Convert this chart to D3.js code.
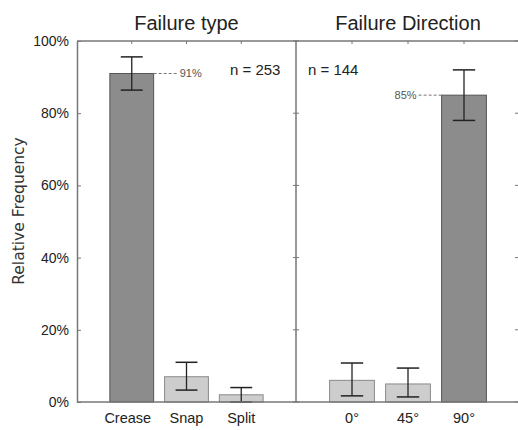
<!DOCTYPE html>
<html><head><meta charset="utf-8">
<script src="https://cdn.jsdelivr.net/npm/d3@7"></script>
<style>body{margin:0;background:#fff}svg{display:block}</style>
</head><body>
<svg id="c" width="518" height="430"></svg>
<script>
const typeCats = ["Crease", "Snap", "Split"];
const typeVals = [91, 7, 2];
const typeErrLo = [86.4, 3.3, 0];
const typeErrHi = [95.6, 11, 4];
const typeN = "n = 253";
const dirCats = ["0°", "45°", "90°"];
const dirVals = [6, 5, 85];
const dirErrLo = [1.7, 1.4, 78];
const dirErrHi = [10.8, 9.4, 92];
const dirN = "n = 144";
const yTicks = [0, 20, 40, 60, 80, 100];
const titles = ["Failure type", "Failure Direction"];
const yLabel = "Relative Frequency";

const svg = d3.select("#c");
const font = "'Liberation Sans', Arial, sans-serif";
const y = d3.scaleLinear().domain([0, 100]).range([402, 41]);
const xL = d3.scaleLinear().domain([0, 4]).range([77, 296]);
const xR = d3.scaleLinear().domain([0, 4]).range([296, 520]);
const axisCol = "#777";

function panel(x, cats, vals, lo, hi, title, nText, nX, anchorLabelRight) {
  const g = svg.append("g");
  const unit = x(1) - x(0);
  const bw = unit * 0.8;
  const maxV = d3.max(vals);
  cats.forEach((c, i) => {
    const cx = x(i + 1);
    const dark = vals[i] === maxV;
    g.append("rect").attr("x", cx - bw / 2).attr("y", y(vals[i]))
      .attr("width", bw).attr("height", y(0) - y(vals[i]))
      .attr("fill", dark ? "#8c8c8c" : "#cdcdcd")
      .attr("stroke", dark ? "#555" : "#8a8a8a").attr("stroke-width", 1);
    const cw = bw / 4;
    g.append("line").attr("x1", cx).attr("x2", cx).attr("y1", y(hi[i])).attr("y2", y(lo[i]))
      .attr("stroke", "#222").attr("stroke-width", 1.3);
    [hi[i], lo[i]].forEach(v => g.append("line").attr("x1", cx - cw).attr("x2", cx + cw)
      .attr("y1", y(v)).attr("y2", y(v)).attr("stroke", "#222").attr("stroke-width", 1.5));
    g.append("text").attr("x", cx - (i === 0 && x === xL ? 4 : 0)).attr("y", 423)
      .attr("text-anchor", "middle").attr("font-family", font).attr("font-size", 14.5)
      .attr("fill", "#222").text(c);
    g.append("line").attr("x1", cx).attr("x2", cx).attr("y1", y(100)).attr("y2", y(100) + 3)
      .attr("stroke", axisCol);
    if (dark) {
      const yy = y(vals[i]);
      if (anchorLabelRight) {
        g.append("line").attr("x1", cx + bw / 2).attr("x2", cx + bw / 2 + 24).attr("y1", yy).attr("y2", yy)
          .attr("stroke", "#777").attr("stroke-dasharray", "3,2");
        g.append("text").attr("x", cx + bw / 2 + 26).attr("y", yy + 4).attr("font-family", font)
          .attr("font-size", 11).attr("fill", "#555").text(vals[i] + "%");
      } else {
        g.append("line").attr("x1", cx - bw / 2).attr("x2", cx - bw / 2 - 25).attr("y1", yy).attr("y2", yy)
          .attr("stroke", "#777").attr("stroke-dasharray", "3,2");
        g.append("text").attr("x", cx - bw / 2 - 25).attr("y", yy + 4).attr("text-anchor", "end")
          .attr("font-family", font).attr("font-size", 11).attr("fill", "#555").text(vals[i] + "%");
      }
    }
  });
  g.append("text").attr("x", (x(0) + x(4)) / 2).attr("y", 30).attr("text-anchor", "middle")
    .attr("font-family", font).attr("font-size", 20).attr("fill", "#222").text(title);
  g.append("text").attr("x", nX).attr("y", 75).attr("font-family", font)
    .attr("font-size", 15).attr("fill", "#222").text(nText);
}

panel(xL, typeCats, typeVals, typeErrLo, typeErrHi, titles[0], typeN, 230, true);
panel(xR, dirCats, dirVals, dirErrLo, dirErrHi, titles[1], dirN, 308, false);

svg.append("line").attr("x1", 77).attr("x2", 520).attr("y1", y(100)).attr("y2", y(100)).attr("stroke", axisCol).attr("stroke-width", 1.5);
svg.append("line").attr("x1", 77).attr("x2", 520).attr("y1", y(0)).attr("y2", y(0)).attr("stroke", axisCol).attr("stroke-width", 1.5);
svg.append("line").attr("x1", 296).attr("x2", 296).attr("y1", y(100)).attr("y2", y(0)).attr("stroke", axisCol).attr("stroke-width", 1.5);

const yAxis = d3.axisLeft(y).tickValues(yTicks).tickFormat(d => d + "%").tickSizeInner(-4).tickSizeOuter(0).tickPadding(8);
const ga = svg.append("g").attr("transform", "translate(77,0)").call(yAxis);
ga.select(".domain").attr("stroke", axisCol).attr("stroke-width", 1.5);
ga.selectAll(".tick line").attr("stroke", axisCol);
ga.selectAll("text").attr("font-family", font).attr("font-size", 14).attr("fill", "#222");

yTicks.forEach(t => {
  svg.append("line").attr("x1", 293).attr("x2", 299).attr("y1", y(t)).attr("y2", y(t)).attr("stroke", axisCol);
  svg.append("line").attr("x1", 515).attr("x2", 520).attr("y1", y(t)).attr("y2", y(t)).attr("stroke", axisCol);
});

svg.append("text").attr("transform", "translate(24,211) rotate(-90)").attr("text-anchor", "middle")
  .attr("font-family", "'DejaVu Sans', Verdana, sans-serif").attr("font-size", 15.5).attr("fill", "#333").text(yLabel);
</script>
</body></html>
